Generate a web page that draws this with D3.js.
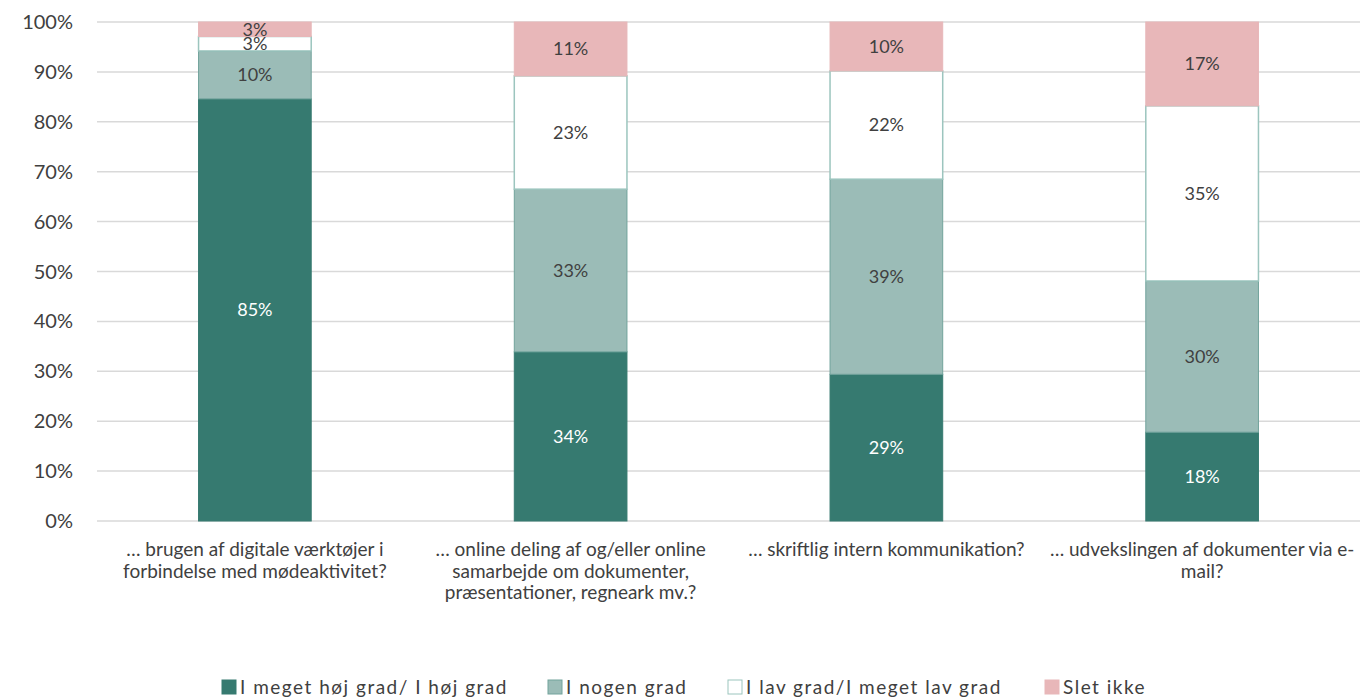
<!DOCTYPE html>
<html><head><meta charset="utf-8">
<script src="https://cdn.jsdelivr.net/npm/d3@7"></script>
<style>
html,body{margin:0;padding:0;background:#fff;overflow:hidden}
text{font-family:Lato,"Open Sans",sans-serif;fill:#404040}
</style></head><body>
<svg id="c" width="1366" height="697"></svg>
<script>
const categories = [
  "… brugen af digitale værktøjer i\nforbindelse med mødeaktivitet?",
  "… online deling af og/eller online\nsamarbejde om dokumenter,\npræsentationer, regneark mv.?",
  "… skriftlig intern kommunikation?",
  "… udvekslingen af dokumenter via e-\nmail?"
];
const seriesNames = ["I meget høj grad/ I høj grad","I nogen grad","I lav grad/I meget lav grad","Slet ikke"];
const s1 = [84.6, 33.9, 29.4, 17.8];
const s2 = [9.6, 32.6, 39.1, 30.3];
const s3 = [2.9, 22.7, 21.7, 35.1];
const s4 = [2.9, 10.8, 9.8, 16.8];
const yTicks = [0,10,20,30,40,50,60,70,80,90,100];

const fills = ["#367a70","#9bbcb7","#ffffff","#e8b7b9"];
const strokes = ["#367a70","#72a39c","#9cc5be","#e8b7b9"];

const svg = d3.select("#c");
const m = {l:97, r:1360, t:22, b:521};
const x = d3.scaleBand().domain(categories).range([m.l, m.r]).paddingInner(0.64).paddingOuter(0.32);
const y = d3.scaleLinear().domain([0,100]).range([m.b, m.t]);

// grid
svg.append("g").selectAll("line").data(yTicks).join("line")
  .attr("x1", m.l).attr("x2", m.r)
  .attr("y1", d=>y(d)).attr("y2", d=>y(d))
  .attr("stroke","#d9d9d9").attr("stroke-width",1.5);

// y labels
svg.append("g").selectAll("text").data(yTicks).join("text")
  .attr("x", 73).attr("y", d=>y(d)).attr("dy","0.35em")
  .attr("text-anchor","end").attr("font-size",20).text(d=>d+"%");

const series = [s1,s2,s3,s4];
const stack = categories.map((c,i)=>{
  let acc=0; return series.map((s,k)=>{const y0=acc; acc+=s[i]; return {c,k,y0,y1:acc,v:s[i]};});
});

const g = svg.append("g");
stack.forEach(col=>{
  col.forEach(d=>{
    g.append("rect")
      .attr("x", x(d.c)+0.5).attr("width", x.bandwidth()-1)
      .attr("y", y(d.y1)).attr("height", y(d.y0)-y(d.y1))
      .attr("fill", fills[d.k]).attr("stroke", strokes[d.k]).attr("stroke-width", d.k===2?1.5:1);
  });
});
stack.forEach(col=>{
  col.forEach(d=>{
    g.append("text")
      .attr("x", x(d.c)+x.bandwidth()/2).attr("y", (y(d.y0)+y(d.y1))/2).attr("dy","0.35em")
      .attr("text-anchor","middle").attr("font-size",18)
      .style("fill", d.k===0 ? "#ffffff" : "#404040")
      .text(Math.round(d.v)+"%");
  });
});

// category labels
categories.forEach(c=>{
  const t = svg.append("text").attr("text-anchor","middle").attr("font-size",19);
  c.split("\n").forEach((ln,i)=>{
    t.append("tspan").attr("x", x(c)+x.bandwidth()/2).attr("y", 556 + i*21.5).text(ln);
  });
});

// legend
const legX = [222, 548, 728, 1045];
const leg = svg.append("g");
seriesNames.forEach((n,i)=>{
  leg.append("rect").attr("x", legX[i]).attr("y", 680).attr("width", 14).attr("height", 14)
    .attr("fill", fills[i]).attr("stroke", strokes[i]).attr("stroke-width",1);
  leg.append("text").attr("x", legX[i]+18).attr("y", 694).attr("font-size",19)
    .attr("letter-spacing","1.5px").text(n);
});
</script>
</body></html>
